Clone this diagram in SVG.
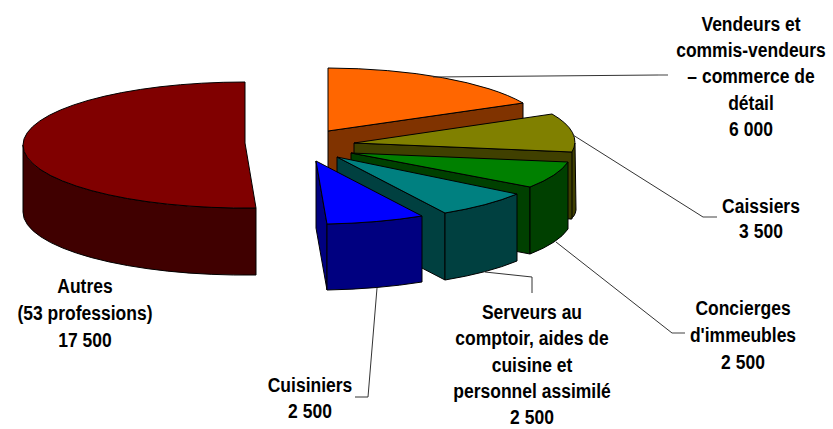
<svg xmlns="http://www.w3.org/2000/svg" width="833" height="429" viewBox="0 0 833 429">
<style>
.f{stroke:#000;stroke-width:1;stroke-linejoin:round}
.t{font-family:"Liberation Sans",Arial,sans-serif;font-weight:bold;font-size:17.5px;fill:#000;text-anchor:middle}
.ld{fill:none;stroke:#333;stroke-width:1}
.le{fill:none;stroke:#808080;stroke-width:1.5}
</style>
<rect width="833" height="429" fill="#fff"/>
<g id="autres">
<path class="f" fill="#400000" d="M23,145 A222,63 0 0 0 256,208 L256,275 A222,63 0 0 1 23,212 Z"/>
<path class="f" fill="#800000" d="M245,82 A222,63 0 0 0 23,145 A222,63 0 0 0 256,208 L245,143 Z"/>
</g>
<g id="vendeurs">
<path class="f" fill="#803300" d="M328,131 L523,103 L523,170 L328,198 Z"/>
<path class="f" fill="#ff6600" d="M328,68 A222,63 0 0 1 523,103 L328,131 Z"/>
</g>
<g id="caissiers">
<path class="f" fill="#404000" d="M575,143 L576,210 Q575,217 570,219 L570,152 Z"/>
<path class="f" fill="#404000" d="M354,143 L572,152 L572,219 L354,210 Z"/>
<path class="f" fill="#808000" d="M354,143 L552,114 A222,63 0 0 1 572,152 Z"/>
</g>
<g id="concierges">
<path class="f" fill="#004000" d="M351,153 L530,187 L530,254 L351,220 Z"/>
<path class="f" fill="#004000" d="M568,162 A222,63 0 0 1 530,187 L530,254 A222,63 0 0 0 568,229 Z"/>
<path class="f" fill="#008000" d="M351,153 L568,162 A222,63 0 0 1 530,187 Z"/>
</g>
<g id="serveurs">
<path class="f" fill="#004040" d="M337,157 L445,213 L445,280 L337,224 Z"/>
<path class="f" fill="#004040" d="M517,194 A222,63 0 0 1 445,213 L445,280 A222,63 0 0 0 517,261 Z"/>
<path class="f" fill="#008080" d="M337,157 L517,194 A222,63 0 0 1 445,213 Z"/>
</g>
<g id="cuisiniers">
<path class="f" fill="#000080" d="M316,161 L327,224 L327,290 L316,228 Z"/>
<path class="f" fill="#000080" d="M422,216 A222,63 0 0 1 327,224 L327,290 A222,63 0 0 0 422,282 Z"/>
<path class="f" fill="#0000ff" d="M316,161 L422,216 A222,63 0 0 1 327,224 Z"/>
</g>
<g id="connectors">
<polyline class="ld" points="433,77 658,75"/>
<polyline class="le" points="658,75 668,75"/>
<polyline class="ld" points="573,135 703,217"/>
<polyline class="le" points="703,217 717,217"/>
<polyline class="ld" points="556,242 672,333"/>
<polyline class="le" points="672,333 685,333"/>
<polyline class="ld" points="485,272 532,277 532,293"/>
<polyline class="ld" points="377,288 368,397 355,397"/>
</g>
<g id="labels">
<g transform="translate(751,31) scale(1,1.15)"><text class="t"><tspan x="0" y="0">Vendeurs et</tspan><tspan x="0" dy="22.8">commis-vendeurs</tspan><tspan x="0" dy="22.8">– commerce de</tspan><tspan x="0" dy="22.8">détail</tspan><tspan x="0" dy="22.8">6 000</tspan></text></g>
<g transform="translate(761,213) scale(1,1.15)"><text class="t"><tspan x="0" y="0">Caissiers</tspan><tspan x="0" dy="22">3 500</tspan></text></g>
<g transform="translate(743,315) scale(1,1.15)"><text class="t"><tspan x="0" y="0">Concierges</tspan><tspan x="0" dy="23.4">d'immeubles</tspan><tspan x="0" dy="23.4">2 500</tspan></text></g>
<g transform="translate(532,319) scale(1,1.15)"><text class="t"><tspan x="0" y="0">Serveurs au</tspan><tspan x="0" dy="22.9">comptoir, aides de</tspan><tspan x="0" dy="22.9">cuisine et</tspan><tspan x="0" dy="22.9">personnel assimilé</tspan><tspan x="0" dy="22.9">2 500</tspan></text></g>
<g transform="translate(310,392) scale(1,1.15)"><text class="t"><tspan x="0" y="0">Cuisiniers</tspan><tspan x="0" dy="22.6">2 500</tspan></text></g>
<g transform="translate(85,293) scale(1,1.15)"><text class="t"><tspan x="0" y="0">Autres</tspan><tspan x="0" dy="23.4">(53 professions)</tspan><tspan x="0" dy="23.4">17 500</tspan></text></g>
</g>
</svg>
